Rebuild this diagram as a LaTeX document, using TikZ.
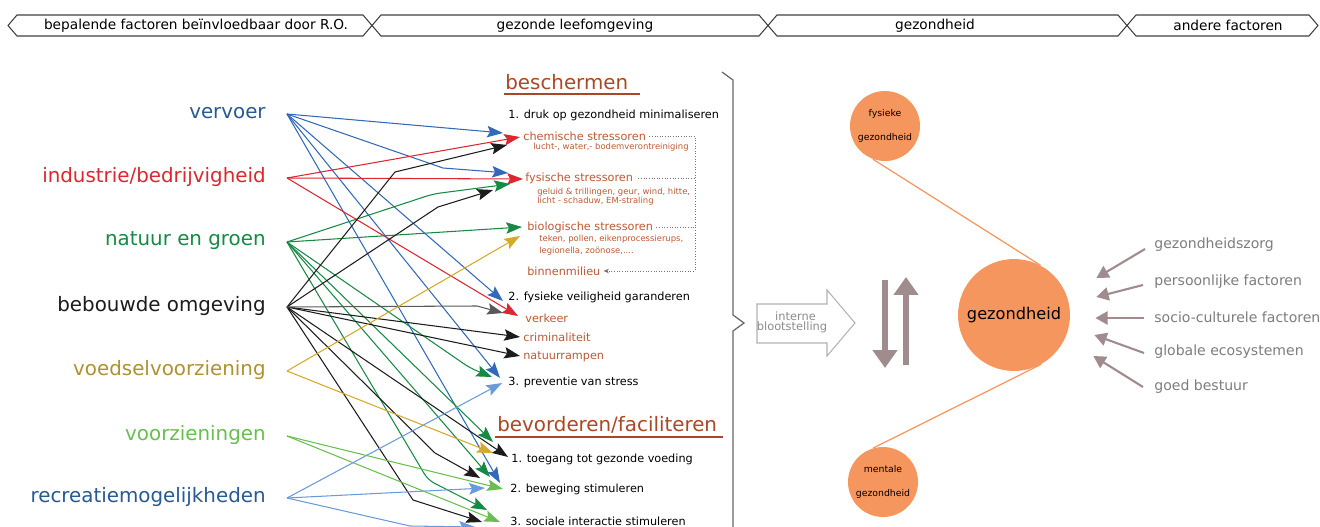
\documentclass[tikz,border=0pt]{standalone}
\usepackage{fontspec}
\setmainfont{DejaVu Sans}
\usetikzlibrary{arrows.meta}
\usetikzlibrary{calc}
\definecolor{vervoerblue}{RGB}{40,88,150}
\definecolor{arrowblue}{RGB}{50,105,185}
\definecolor{industryred}{RGB}{222,38,48}
\definecolor{natuurgreen}{RGB}{22,138,68}
\definecolor{bouwblack}{RGB}{28,28,28}
\definecolor{voedselgold}{RGB}{175,145,50}
\definecolor{arrowgold}{RGB}{212,170,40}
\definecolor{voorzgreen}{RGB}{105,190,80}
\definecolor{recrblue}{RGB}{105,155,220}
\definecolor{brown1}{RGB}{188,88,52}
\definecolor{head1}{RGB}{170,72,38}
\definecolor{orange1}{RGB}{245,150,95}
\definecolor{taupe1}{RGB}{160,140,140}
\definecolor{grey1}{RGB}{125,125,125}

\begin{document}
\begin{tikzpicture}[x=0.02cm, y=-0.02cm,
  band/.style={draw=black!75, line width=0.6pt},
  bandtxt/.style={font=\fontsize{7.8}{9}\selectfont, inner sep=0pt},
  src/.style={anchor=east, inner sep=0pt, font=\fontsize{11.3}{13}\selectfont},
  headtxt/.style={anchor=west, inner sep=0pt, text=head1, font=\fontsize{11.3}{13}\selectfont},
  underl/.style={draw=head1, line width=1.5pt},
  itemtxt/.style={anchor=west, inner sep=0pt, font=\fontsize{6.4}{7.5}\selectfont},
  stressor/.style={itemtxt, text=brown1},
  subtxt/.style={anchor=west, inner sep=0pt, align=left, text=brown1, font=\fontsize{4.8}{5.4}\selectfont},
  dotline/.style={densely dotted, draw=black!55, line width=0.5pt},
  fan/.style={line width=0.6pt, -{Stealth[length=9pt,width=6.5pt,inset=1.6pt]}},
  health/.style={circle, fill=orange1, inner sep=0pt, align=center},
  factor/.style={anchor=west, inner sep=0pt, text=grey1, font=\fontsize{8}{9.6}\selectfont},
  factorarrow/.style={draw=taupe1, line width=1.2pt, -{Triangle[length=7pt,width=7.5pt]}},
  bigarrow/.style={draw=taupe1, line width=3.4pt, -{Triangle[length=0.36cm,width=0.48cm]}}]

\useasboundingbox (0,0) rectangle (1320,527);

% banner
\foreach \xa/\xb/\xt/\txt [count=\i] in {8/372/196/bepalende factoren beïnvloedbaar door R.O., 372/768/575/gezonde leefomgeving, 768/1127/935/gezondheid, 1127/1318/1228/andere factoren}
{
  \draw[band] (\xa,25.5) -- (\xa+9,15) -- (\xb-9,15) -- (\xb,25.5) -- (\xb-9,36) -- (\xa+9,36) -- cycle;
  \node[bandtxt] (band\i) at (\xt,25.5) {\txt};
}

% sources
\node[src, text=vervoerblue] (vervoer) at (266,113) {vervoer};
\node[src, text=industryred] (industrie) at (266,177) {industrie/bedrijvigheid};
\node[src, text=natuurgreen] (natuur) at (266,241) {natuur en groen};
\node[src, text=bouwblack] (bebouwd) at (266,306) {bebouwde omgeving};
\node[src, text=voedselgold] (voedsel) at (266,370) {voedselvoorziening};
\node[src, text=voorzgreen] (voorz) at (266,435) {voorzieningen};
\node[src, text=vervoerblue] (recreatie) at (266,497) {recreatiemogelijkheden};
\foreach \n in {vervoer, industrie, natuur, bebouwd, voedsel, voorz, recreatie}
  \coordinate (\n-o) at ($(\n.east)+(21,1)$);

% beschermen
\node[headtxt] (bescherm) at (505,82) {beschermen};
\draw[underl] ($(bescherm.west)+(-1,12)$) -- ($(bescherm.east)+(11,12)$);
\node[itemtxt] (druk) at (508,115) {1. druk op gezondheid minimaliseren};
\node[stressor] (chem) at (523,136) {chemische stressoren};
\node[subtxt] (chemsub) at (533,147) {lucht-, water,- bodemverontreiniging};
\node[stressor] (fys) at (525,178) {fysische stressoren};
\node[subtxt] (fyssub) at (537,196.5) {geluid \& trillingen, geur, wind, hitte,\\licht - schaduw, EM-straling};
\node[stressor] (bio) at (527,227) {biologische stressoren};
\node[subtxt, font=\fontsize{4.8}{6.5}\selectfont] (biosub) at (539,245) {teken, pollen, eikenprocessierups,\\legionella, zoönose,....};
\node[stressor] (binnen) at (527,271) {binnenmilieu};
\coordinate (dotx) at (695,0);
\draw[dotline, -{Stealth[length=3pt,width=2.6pt]}] ($(chem.east)+(3,0)$) -- (chem.east -| dotx) -- (binnen.east -| dotx) -- ($(binnen.east)+(3,0)$);
\draw[dotline] ($(fys.east)+(5,0)$) -- (fys.east -| dotx);
\draw[dotline] ($(bio.east)+(3,0)$) -- (bio.east -| dotx);
\node[itemtxt] (veilig) at (508,297) {2. fysieke veiligheid garanderen};
\node[stressor] (verkeer) at (525,318) {verkeer};
\node[stressor] (crimi) at (523,337) {criminaliteit};
\node[stressor] (rampen) at (523,357) {natuurrampen};
\node[itemtxt] (stress) at (508,382) {3. preventie van stress};

% bevorderen
\node[headtxt] (bevorder) at (497,425) {bevorderen/faciliteren};
\draw[underl] ($(bevorder.west)+(-2,12)$) -- ($(bevorder.east)+(6,12)$);
\node[itemtxt] (voeding) at (511,459) {1. toegang tot gezonde voeding};
\node[itemtxt] (beweging) at (510,489) {2. beweging stimuleren};
\node[itemtxt] (sociaal) at (510,521) {3. sociale interactie stimuleren};

% fans
\foreach \to/\dx/\dy in {chem/-20/-3, veilig/-5/4, stress/-8/-4, beweging/-10/-6}
  \draw[fan, arrowblue] (vervoer-o) -- ($(\to.west)+(\dx,\dy)$);
\draw[fan, arrowblue] (vervoer-o) -- (443,168) -- ($(fys.west)+(-17,-5)$);

\foreach \to/\dx/\dy in {chem/-3/1, fys/-2/1, verkeer/-7/-2}
  \draw[fan, industryred] (industrie-o) -- ($(\to.west)+(\dx,\dy)$);

\foreach \to/\dx/\dy in {bio/-5/0, voeding/-18/-17, beweging/-20/-12}
  \draw[fan, natuurgreen] (natuur-o) -- ($(\to.west)+(\dx,\dy)$);
\foreach \to/\bx/\by/\dx/\dy in {fys/433/194/-15/6, stress/470/368/-16/-5, sociaal/428/480/-23/-11}
  \draw[fan, natuurgreen, rounded corners=4pt] (natuur-o) -- (\bx,\by) -- ($(\to.west)+(\dx,\dy)$);

\foreach \to/\dx/\dy in {crimi/-3/0, rampen/-3/-1, voeding/-3/-2}
  \draw[fan, bouwblack] (bebouwd-o) -- ($(\to.west)+(\dx,\dy)$);
\foreach \to/\bx/\by/\dx/\dy in {chem/395/172/-16/9, fys/438/207/-32/12, beweging/435/453/-30/-11, sociaal/413/500/-28/1}
  \draw[fan, bouwblack] (bebouwd-o) -- (\bx,\by) -- ($(\to.west)+(\dx,\dy)$);
\draw[fan, black!65] (bebouwd-o) -- (477,306) -- ($(verkeer.west)+(-22,-5)$);

\foreach \to/\dx/\dy in {bio/-7/9, voeding/-18/-6}
  \draw[fan, arrowgold] (voedsel-o) -- ($(\to.west)+(\dx,\dy)$);

\foreach \to/\dx/\dy in {beweging/-7/0, sociaal/-10/1}
  \draw[fan, voorzgreen] (voorz-o) -- ($(\to.west)+(\dx,\dy)$);

\foreach \to/\dx/\dy in {stress/-6/1, beweging/-25/-1}
  \draw[fan, recrblue] (recreatie-o) -- ($(\to.west)+(\dx,\dy)$);
\draw[fan, recrblue] (recreatie-o) -- (410,526) -- ($(sociaal.west)+(-35,6)$);

% brace
\draw[draw=black!60, line width=0.7pt] (722,72) -- (733,80) -- (733,315) -- (744,323) -- (733,331) -- (733,540);

% interne blootstelling
\draw[draw=black!30, line width=0.6pt] (757,304) -- (827,304) -- (827,290) -- (855,323) -- (827,356) -- (827,343) -- (757,343) -- cycle;
\node[inner sep=0pt, align=center, text=black!45, font=\fontsize{6.5}{5.8}\selectfont] (intern) at (792,322) {\hspace*{4pt}interne\\blootstelling};

% wisselwerking
\coordinate (downtop) at (885,280);
\coordinate (uptop) at (906,277);
\draw[bigarrow] (downtop) -- (885,368);
\draw[bigarrow] (906,365) -- (uptop);

% gezondheid
\node[health, minimum size=2.24cm, font=\fontsize{9.2}{11}\selectfont] (gez) at (1014,315) {gezondheid};
\node[health, minimum size=1.4cm, font=\fontsize{5.3}{13.5}\selectfont] (fysiek) at (885,126) {fysieke\\gezondheid};
\node[health, minimum size=1.4cm, font=\fontsize{5.3}{13.5}\selectfont] (mentaal) at (883,482) {mentale\\gezondheid};
\draw[orange1, line width=0.7pt] (fysiek.250) -- (gez.62);
\draw[orange1, line width=0.7pt] (mentaal.106) -- (gez.299);

% andere factoren
\foreach \n/\txt/\yy/\sx/\sy/\dx/\dy in {zorg/gezondheidszorg/245/-9/4/26/-37, persoon/persoonlijke factoren/282/-11/3/26/-18, socio/socio-culturele factoren/317/-10/1/25/3, eco/globale ecosystemen/352/-10/1/24/20, bestuur/goed bestuur/387/-11/0/23/41}
{
  \node[factor] (\n) at (1154,\yy) {\txt};
  \draw[factorarrow] ($(\n.west)+(\sx,\sy)$) -- ($(gez.east)+(\dx,\dy)$);
}
\end{tikzpicture}
\end{document}
